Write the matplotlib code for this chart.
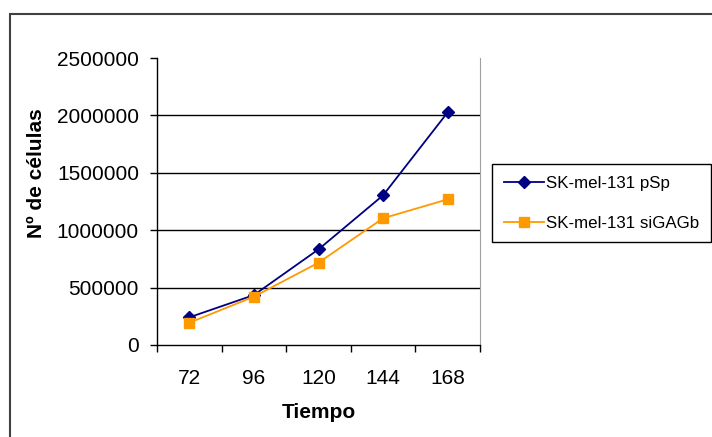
import matplotlib
matplotlib.use("Agg")
import matplotlib.pyplot as plt
from matplotlib.patches import Rectangle
from matplotlib.ticker import FixedLocator

plt.rcParams['font.family'] = ['Liberation Sans', 'DejaVu Sans']

tiempo = ["72", "96", "120", "144", "168"]
psp = [241000, 435000, 833000, 1304000, 2027000]
sigagb = [194000, 421000, 717000, 1104000, 1269000]
series_names = ["SK-mel-131 pSp", "SK-mel-131 siGAGb"]
y_ticks = [0, 500000, 1000000, 1500000, 2000000, 2500000]

W, H = 712, 437
fig = plt.figure(figsize=(W / 100, H / 100), dpi=100)

# outer chart frame
fig.patches.append(Rectangle((10 / W, -0.05), 1.1, (H - 14) / H + 0.05,
                             transform=fig.transFigure, fill=False,
                             edgecolor="#404040", linewidth=1.5))

ax = fig.add_axes([157 / W, (H - 345) / H, (480 - 157) / W, (345 - 58) / H])

x = range(len(tiempo))
l1, = ax.plot(x, psp, color="#000080", lw=1.3, marker="D", markersize=6.5,
              label=series_names[0], zorder=3)
l2, = ax.plot(x, sigagb, color="#FF9900", lw=1.3, marker="s", markersize=6.5,
              label=series_names[1], zorder=3)

ax.set_xlim(-0.5, len(tiempo) - 0.5)
ax.set_ylim(0, 2500000)
ax.set_yticks(y_ticks)
ax.set_yticklabels([str(v) for v in y_ticks])
ax.set_xticks(list(x))
ax.set_xticklabels(tiempo)
ax.xaxis.set_minor_locator(FixedLocator([i - 0.5 for i in range(len(tiempo) + 1)]))
ax.tick_params(axis="x", which="major", length=0, pad=17, labelsize=15)
ax.tick_params(axis="x", which="minor", length=5, width=1, direction="out")
ax.tick_params(axis="y", length=5, width=1, direction="out", pad=8, labelsize=15)

for v in y_ticks[1:-1]:
    ax.axhline(v, color="black", lw=1, zorder=1)

ax.spines["top"].set_visible(False)
ax.spines["right"].set_color("#A0A0A0")
ax.spines["left"].set_linewidth(1)
ax.spines["bottom"].set_linewidth(1)

ax.set_xlabel("Tiempo", fontsize=15, fontweight="bold", va="center")
ax.xaxis.set_label_coords((319 - 157) / (480 - 157), -(413 - 345) / (345 - 58))
ax.set_ylabel("Nº de células", fontsize=15, fontweight="bold", va="center")
ax.yaxis.set_label_coords(-(157 - 37) / (480 - 157), (345 - 173) / (345 - 58))

leg = fig.legend(handles=[l1, l2], loc="upper left",
                 bbox_to_anchor=(492 / W, 1 - 164 / H),
                 fontsize=12.2, frameon=True, fancybox=False, framealpha=1,
                 edgecolor="black", numpoints=1, handlelength=2.4,
                 handletextpad=0.12, labelspacing=1.5, borderpad=0.68,
                 borderaxespad=0)
leg.get_frame().set_linewidth(1)

fig.savefig("out.png", dpi=100)
